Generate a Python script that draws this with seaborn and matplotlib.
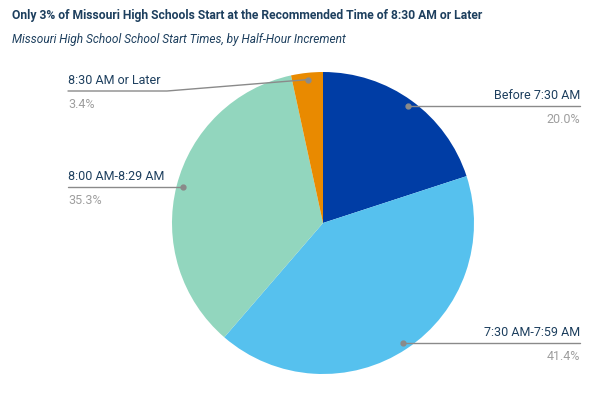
import numpy as np
import matplotlib
matplotlib.use('Agg')
import matplotlib.pyplot as plt
import seaborn as sns

# data
categories = ['Before 7:30 AM', '7:30 AM-7:59 AM', '8:00 AM-8:29 AM', '8:30 AM or Later']
shares = [20.0, 41.4, 35.3, 3.4]
pct_labels = ['20.0%', '41.4%', '35.3%', '3.4%']
colors = ['#003DA5', '#56C1EE', '#92D6BE', '#E98A00']

sns.set_theme(style='white')
plt.rcParams['font.family'] = ['Roboto', 'DejaVu Sans']

W, H = 601, 397
fig = plt.figure(figsize=(W / 100, H / 100), dpi=100)

# pie centre / radius in pixels
cx, cy, R = 323, 223, 151
ax = fig.add_axes([(cx - R) / W, (H - cy - R) / H, 2 * R / W, 2 * R / H])
wedges, _ = ax.pie(shares, colors=colors, startangle=90, counterclock=False,
                   wedgeprops=dict(linewidth=0))
ax.set_xlim(-1, 1)
ax.set_ylim(-1, 1)
ax.set_aspect('equal')
ax.axis('off')

navy = '#1D3F5E'
grey_txt = '#9E9E9E'
line_c = '#8A8A8A'

def px2d(px, py):
    return (px - cx) / R, (cy - py) / R

right_x = px2d(580, 0)[0]
left_x = px2d(68, 0)[0]

for i, w in enumerate(wedges):
    mid = np.deg2rad((w.theta1 + w.theta2) / 2)
    dx, dy = 0.955 * np.cos(mid), 0.955 * np.sin(mid)
    right = np.cos(mid) > 0.2
    tx = right_x if right else left_x
    ly = dy
    xs, ys = [dx, tx], [dy, ly]
    if categories[i] == '8:30 AM or Later':
        ly = px2d(0, 91)[1]
        ex = px2d(167, 0)[0]
        xs, ys = [dx, ex, tx], [dy, ly, ly]
    ax.plot(xs, ys, color=line_c, lw=1, clip_on=False)
    ax.plot([dx], [dy], 'o', color=line_c, ms=3.5, clip_on=False)
    ha = 'right' if right else 'left'
    ax.text(tx, ly + 0.028, categories[i], ha=ha, va='bottom', fontsize=9,
            color=navy, clip_on=False)
    ax.text(tx, ly - 0.045, pct_labels[i], ha=ha, va='top', fontsize=9,
            color=grey_txt, clip_on=False)

fig.text(12 / W, 1 - 9 / H,
         'Only 3% of Missouri High Schools Start at the Recommended Time of 8:30 AM or Later',
         ha='left', va='top', fontsize=8.7, fontweight='bold', color=navy)
fig.text(12 / W, 1 - 33 / H,
         'Missouri High School School Start Times, by Half-Hour Increment',
         ha='left', va='top', fontsize=8.6, style='italic', color=navy)

fig.savefig('out.png', dpi=100)
